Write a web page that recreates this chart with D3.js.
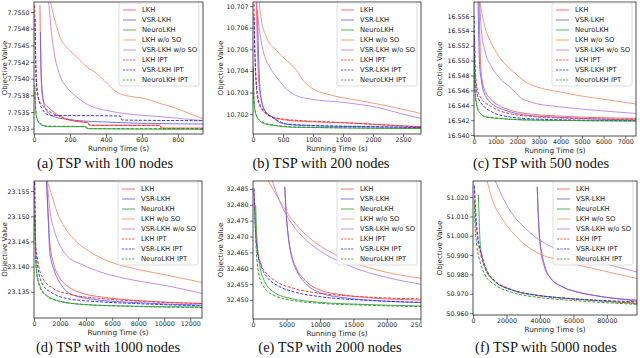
<!DOCTYPE html>
<html>
<head>
<meta charset="utf-8">
<script src="https://cdn.jsdelivr.net/npm/d3@7"></script>
<style>
  body { margin: 0; background: #fff; }
  text { font-family: "DejaVu Sans", sans-serif; fill: #222; }
  .cap { font-family: "Liberation Serif", serif; fill: #111; }
</style>
</head>
<body>
<svg id="fig" width="640" height="358"></svg>
<script>
// legend entries, same order in every panel
const seriesNames = ['LKH', 'VSR-LKH', 'NeuroLKH', 'LKH w/o SO', 'VSR-LKH w/o SO', 'LKH IPT', 'VSR-LKH IPT', 'NeuroLKH IPT'];
const seriesColors = ['#ff4d4d', '#5c5cff', '#2ca02c', '#ff8a65', '#b57bee', '#ff2b2b', '#2b2bff', '#2a9a2a'];
const seriesDashed = [false, false, false, false, false, true, true, true];
const captions = ['(a) TSP with 100 nodes', '(b) TSP with 200 nodes', '(c) TSP with 500 nodes',
  '(d) TSP with 1000 nodes', '(e) TSP with 2000 nodes', '(f) TSP with 5000 nodes'];

// ---- TSP 100 : [running time (s), objective value]
const lkh100 = [[33,7.7551],[36,7.7545],[40,7.7540],[48,7.75372],[60,7.75362],[80,7.75357],[100,7.75352],[130,7.75346],[170,7.7534],[230,7.75336],[300,7.75334],[310,7.7533],[700,7.7533],[710,7.75326],[940,7.75326]];
const vsr100 = [[36,7.7547],[40,7.7541],[46,7.7538],[55,7.75362],[70,7.75352],[90,7.75346],[120,7.75342],[160,7.7534],[250,7.75337],[400,7.75335],[600,7.75333],[940,7.75332]];
const neuro100 = [[4,7.7539],[7,7.7537],[10,7.7535],[15,7.75342],[25,7.75335],[45,7.7533],[90,7.75328],[290,7.75328],[300,7.75325],[940,7.75324]];
const lkhNoSo100 = [[89,7.75518],[117,7.75487],[145,7.75462],[183,7.75447],[240,7.75432],[296,7.75417],[353,7.75407],[391,7.75397],[428,7.75387],[466,7.75379],[523,7.75374],[598,7.75371],[655,7.75367],[711,7.75362],[787,7.75356],[862,7.75348],[940,7.7534]];
const vsrNoSo100 = [[81,7.75518],[98,7.75467],[117,7.75432],[145,7.75404],[183,7.75387],[240,7.75372],[315,7.75359],[409,7.75352],[523,7.75347],[655,7.75344],[787,7.75341],[940,7.75337]];
const lkhIpt100 = [[4,7.7551],[7,7.7546],[10,7.7541],[15,7.7538],[25,7.7537],[40,7.75362],[60,7.75356],[90,7.7535],[130,7.75345],[180,7.7534],[250,7.75336],[300,7.75334],[310,7.7533],[700,7.7533],[710,7.75325],[940,7.75325]];
const vsrIpt100 = [[6,7.7549],[9,7.7544],[13,7.7540],[20,7.7538],[30,7.75365],[45,7.75355],[65,7.75348],[90,7.75345],[480,7.75344],[490,7.75338],[940,7.75337]];
const neuroIpt100 = [[5,7.7538],[8,7.75362],[12,7.75348],[20,7.75338],[35,7.75333],[70,7.75329],[280,7.75328],[300,7.75325],[940,7.75325]];

// ---- TSP 200
const lkh200 = [[56,10.7072],[70,10.7055],[84,10.70417],[110,10.7031],[140,10.70262],[200,10.70215],[280,10.70192],[400,10.7018],[560,10.70172],[952,10.70165],[1512,10.7016],[2200,10.7015],[2800,10.70142]];
const vsr200 = [[73,10.7068],[90,10.7050],[112,10.7034],[140,10.7027],[168,10.70231],[230,10.70205],[336,10.70184],[450,10.7016],[672,10.7015],[952,10.70146],[1512,10.70143],[2800,10.70138]];
const neuro200 = [[5,10.7042],[10,10.7034],[17,10.70262],[30,10.70225],[56,10.70192],[100,10.70172],[168,10.70158],[280,10.7015],[392,10.70146],[600,10.7014],[952,10.70138],[1800,10.70135],[2800,10.70133]];
const lkhNoSo200 = [[100,10.7073],[140,10.70635],[224,10.70557],[392,10.70495],[560,10.70448],[728,10.70402],[840,10.70355],[1008,10.70316],[1232,10.70293],[1512,10.70275],[1792,10.70262],[2072,10.70247],[2352,10.70231],[2800,10.70203]];
const vsrNoSo200 = [[56,10.7073],[100,10.70604],[168,10.70495],[280,10.70417],[392,10.70371],[560,10.70316],[728,10.70285],[952,10.7027],[1512,10.70254],[2072,10.70231],[2500,10.702],[2800,10.7018]];
const lkhIpt200 = [[17,10.7071],[25,10.7055],[39,10.70417],[60,10.7031],[84,10.70262],[140,10.70225],[224,10.702],[350,10.70185],[504,10.70177],[800,10.7017],[1232,10.70164],[1700,10.70158],[2072,10.70152],[2800,10.7014]];
const vsrIpt200 = [[17,10.7065],[30,10.705],[56,10.7034],[80,10.7028],[112,10.70247],[180,10.70215],[280,10.70192],[400,10.70172],[560,10.70155],[952,10.70148],[1792,10.70143],[2800,10.70138]];
const neuroIpt200 = [[5,10.7041],[10,10.7033],[17,10.7026],[30,10.70222],[56,10.70195],[100,10.70175],[168,10.70162],[280,10.70152],[392,10.70147],[600,10.70142],[952,10.70139],[1800,10.70136],[2800,10.70134]];

// ---- TSP 500
const lkh500 = [[233,16.558],[270,16.553],[311,16.54919],[400,16.547],[498,16.54605],[809,16.5447],[1276,16.54381],[2364,16.54291],[3920,16.54255],[7500,16.54224]];
const vsr500 = [[187,16.558],[220,16.553],[264,16.54919],[340,16.5474],[420,16.54605],[809,16.54426],[1431,16.54336],[2364,16.54269],[3920,16.54238],[7500,16.54202]];
const neuro500 = [[0,16.55098],[25,16.548],[62,16.5456],[120,16.5442],[187,16.54336],[300,16.5429],[498,16.54246],[1120,16.54224],[2364,16.54202],[7500,16.54188]];
const lkhNoSo500 = [[250,16.5582],[342,16.55681],[498,16.55457],[809,16.55233],[1276,16.55008],[1742,16.54874],[2364,16.54717],[3142,16.54627],[3920,16.54583],[4698,16.54538],[5476,16.54502],[6254,16.5447],[7500,16.54417]];
const vsrNoSo500 = [[250,16.5582],[342,16.55412],[498,16.55143],[809,16.54919],[1276,16.5474],[1742,16.54627],[2200,16.5449],[2364,16.5447],[2831,16.54426],[3920,16.54381],[5476,16.54336],[7500,16.54291]];
const lkhIpt500 = [[31,16.55322],[60,16.5495],[109,16.54695],[200,16.5457],[342,16.54493],[809,16.54381],[1587,16.54291],[2831,16.54246],[4698,16.54224],[7500,16.54211]];
const vsrIpt500 = [[0,16.556],[15,16.552],[31,16.54919],[60,16.5475],[109,16.54605],[200,16.545],[342,16.54426],[809,16.54314],[1587,16.54246],[2831,16.54215],[4698,16.54202],[7500,16.54193]];
const neuroIpt500 = [[0,16.5505],[25,16.5478],[62,16.5455],[120,16.5441],[187,16.5434],[300,16.5429],[498,16.5425],[1120,16.54226],[2364,16.54205],[7500,16.5419]];

// ---- TSP 1000
const lkh1000 = [[950,23.1575],[1100,23.15],[1208,23.14493],[1465,23.14096],[1850,23.13831],[2493,23.13632],[3778,23.13467],[5063,23.13401],[7633,23.13334],[12900,23.13268]];
const vsr1000 = [[950,23.1575],[1100,23.149],[1208,23.14295],[1593,23.13897],[2107,23.13632],[3007,23.13434],[5063,23.13334],[7633,23.13288],[12900,23.13235]];
const neuro1000 = [[60,23.1502],[100,23.145],[180,23.13964],[437,23.13632],[951,23.13434],[1979,23.13315],[3778,23.13248],[7633,23.13215],[12900,23.13195]];
const lkhNoSo1000 = [[950,23.1575],[1208,23.15553],[1593,23.15222],[1979,23.14957],[2493,23.14725],[3264,23.14493],[4292,23.14295],[5834,23.14096],[7633,23.13964],[10203,23.13831],[12900,23.13685]];
const vsrNoSo1000 = [[1000,23.1575],[1208,23.15156],[1593,23.14692],[1979,23.14427],[2493,23.14228],[3778,23.1403],[5063,23.13897],[7633,23.13732],[10203,23.1362],[12900,23.13467]];
const lkhIpt1000 = [[50,23.1575],[90,23.15],[128,23.14493],[308,23.14096],[694,23.13765],[1465,23.13566],[2493,23.13467],[5063,23.13368],[7633,23.13321],[12900,23.13268]];
const vsrIpt1000 = [[50,23.1568],[90,23.149],[128,23.1436],[308,23.13964],[694,23.13632],[1465,23.13467],[2493,23.13368],[5063,23.13301],[7633,23.13268],[12900,23.13222]];
const neuroIpt1000 = [[60,23.1495],[100,23.1445],[180,23.1392],[437,23.136],[951,23.1342],[1979,23.1331],[3778,23.1325],[7633,23.1321],[12900,23.1319]];

// ---- TSP 2000
const lkh2000 = [[4750,32.4857],[4900,32.4789],[5250,32.4705],[5750,32.46419],[6500,32.45998],[8000,32.45578],[10000,32.45315],[13500,32.45158],[18500,32.45052],[25100,32.45]];
const vsr2000 = [[4750,32.4857],[4950,32.478],[5300,32.4695],[5850,32.463],[6600,32.45893],[8100,32.45473],[10250,32.4521],[13500,32.45073],[18500,32.44979],[25100,32.44916]];
const neuro2000 = [[400,32.47995],[600,32.46839],[1000,32.46104],[1750,32.45578],[3000,32.45263],[5500,32.45052],[10000,32.44926],[16000,32.44863],[25100,32.44811]];
const lkhNoSo2000 = [[2000,32.4885],[3500,32.48311],[5000,32.47785],[6500,32.47365],[8500,32.46944],[11000,32.46577],[13500,32.46314],[16000,32.46104],[18500,32.45946],[25100,32.45683]];
const vsrNoSo2000 = [[2750,32.4885],[4000,32.48101],[5000,32.4768],[6500,32.47207],[8500,32.46787],[11000,32.46419],[13500,32.46156],[16000,32.45946],[18500,32.45788],[25100,32.45494]];
const lkhIpt2000 = [[150,32.4845],[350,32.47365],[650,32.46629],[1250,32.46104],[2250,32.45788],[3500,32.45578],[6000,32.45368],[10000,32.4521],[16000,32.45105],[25100,32.45031]];
const vsrIpt2000 = [[150,32.4852],[350,32.4725],[650,32.4655],[1250,32.4605],[2250,32.4568],[3500,32.45473],[6000,32.45263],[10000,32.45105],[16000,32.45],[25100,32.44926]];
const neuroIpt2000 = [[250,32.4789],[500,32.46524],[900,32.45788],[1750,32.45368],[3000,32.45158],[5500,32.45],[10000,32.44895],[16000,32.4484],[25100,32.4479]];

// ---- TSP 5000
const lkh5000 = [[38370,51.0253],[39340,51.0055],[40360,50.9935],[42350,50.9848],[46390,50.9779],[51390,50.9745],[61450,50.971],[71500,50.9693],[98000,50.9662]];
const vsr5000 = [[38370,51.0253],[39500,51.002],[41380,50.99],[43370,50.9831],[47410,50.9771],[53430,50.9736],[63430,50.9707],[77530,50.9684],[98000,50.9667]];
const neuro5000 = [[3200,51.021],[3610,51.0107],[4220,50.9969],[5600,50.9883],[8250,50.9814],[13250,50.9762],[23310,50.9719],[41380,50.9689],[61450,50.9672],[98000,50.965]];
const lkhNoSo5000 = [[8250,51.029],[11260,51.0193],[17290,51.009],[23310,51.002],[31330,50.9952],[41380,50.99],[51390,50.9874],[71500,50.9831],[98000,50.9779]];
const vsrNoSo5000 = [[13000,51.029],[15240,51.0245],[21270,51.0142],[31330,51.0038],[41380,50.9969],[51390,50.9926],[71500,50.9874],[98000,50.9812]];
const lkhIpt5000 = [[800,51.0255],[1200,51.0142],[2230,51.002],[4220,50.9917],[7230,50.9831],[11260,50.9779],[21270,50.9728],[31330,50.9702],[51390,50.9679],[71500,50.9667],[98000,50.965]];
const vsrIpt5000 = [[800,51.026],[1600,51.0124],[2800,51.0003],[5220,50.99],[8250,50.9822],[13250,50.9765],[23310,50.9719],[37350,50.9693],[57410,50.9676],[98000,50.9658]];
const neuroIpt5000 = [[800,51.0176],[1200,51.0055],[2230,50.9952],[4220,50.9865],[7230,50.9797],[13250,50.9745],[23310,50.9707],[41380,50.9679],[61450,50.9664],[98000,50.9645]];

// ---- ticks
const xTicks100 = [0, 200, 400, 600, 800];
const xTicks200 = [0, 500, 1000, 1500, 2000, 2500];
const xTicks500 = [0, 1000, 2000, 3000, 4000, 5000, 6000, 7000];
const xTicks1000 = [0, 2000, 4000, 6000, 8000, 10000, 12000];
const xTicks2000 = [0, 5000, 10000, 15000, 20000, 25000];
const xTicks5000 = [0, 20000, 40000, 60000, 80000];
const yTicks100 = [7.75325, 7.7535, 7.75375, 7.754, 7.75425, 7.7545, 7.75475, 7.755];
const yLabels100 = ['7.7533', '7.7535', '7.7538', '7.7540', '7.7542', '7.7545', '7.7548', '7.7550'];
const yTicks200 = [10.702, 10.703, 10.704, 10.705, 10.706, 10.707];
const yTicks500 = [16.540, 16.542, 16.544, 16.546, 16.548, 16.550, 16.552, 16.554, 16.556];
const yTicks1000 = [23.135, 23.140, 23.145, 23.150, 23.155];
const yTicks2000 = [32.450, 32.455, 32.460, 32.465, 32.470, 32.475, 32.480, 32.485];
const yTicks5000 = [50.960, 50.970, 50.980, 50.990, 51.000, 51.010, 51.020];

// panel layout (pixels) + domains
const panels = [
  { box: [34, 203, 2, 134], xd: [0, 940], yd: [7.75317, 7.75515], xt: xTicks100, yt: yTicks100, yl: yLabels100,
    lines: [lkh100, vsr100, neuro100, lkhNoSo100, vsrNoSo100, lkhIpt100, vsrIpt100, neuroIpt100], capX: 105, capY: 168, labX: 4.5, clip: [0, 210] },
  { box: [253, 421, 2, 134], xd: [0, 2800], yd: [10.70108, 10.70719], xt: xTicks200, yt: yTicks200,
    lines: [lkh200, vsr200, neuro200, lkhNoSo200, vsrNoSo200, lkhIpt200, vsrIpt200, neuroIpt200], capX: 321, capY: 168, labX: 221, clip: [210, 422] },
  { box: [474, 636, 2, 136], xd: [0, 7500], yd: [16.53987, 16.55788], xt: xTicks500, yt: yTicks500,
    lines: [lkh500, vsr500, neuro500, lkhNoSo500, vsrNoSo500, lkhIpt500, vsrIpt500, neuroIpt500], capX: 541, capY: 168, labX: 440, clip: [422, 640] },
  { box: [34, 202, 181, 318], xd: [0, 12900], yd: [23.1298, 23.157], xt: xTicks1000, yt: yTicks1000,
    lines: [lkh1000, vsr1000, neuro1000, lkhNoSo1000, vsrNoSo1000, lkhIpt1000, vsrIpt1000, neuroIpt1000], capX: 108, capY: 352, labX: 4.5, clip: [0, 210] },
  { box: [253, 421, 181, 319], xd: [0, 25100], yd: [32.444, 32.4875], xt: xTicks2000, yt: yTicks2000,
    lines: [lkh2000, vsr2000, neuro2000, lkhNoSo2000, vsrNoSo2000, lkhIpt2000, vsrIpt2000, neuroIpt2000], capX: 330, capY: 352, labX: 221, clip: [210, 422] },
  { box: [473, 637, 181, 315], xd: [0, 98000], yd: [50.959, 51.0283], xt: xTicks5000, yt: yTicks5000,
    lines: [lkh5000, vsr5000, neuro5000, lkhNoSo5000, vsrNoSo5000, lkhIpt5000, vsrIpt5000, neuroIpt5000], capX: 546, capY: 352, labX: 440, clip: [422, 640] }
];

const svg = d3.select('#fig');
const defs = svg.append('defs');

panels.forEach((p, pi) => {
  const [L, R, T, B] = p.box;
  const x = d3.scaleLinear().domain(p.xd).range([L, R]);
  const y = d3.scaleLinear().domain(p.yd).range([B, T]);

  // keep each sub-figure inside its own column (the 25000 label is cut in the original)
  defs.append('clipPath').attr('id', 'col' + pi)
    .append('rect').attr('x', p.clip[0]).attr('y', 0).attr('width', p.clip[1] - p.clip[0]).attr('height', 358);
  defs.append('clipPath').attr('id', 'plot' + pi)
    .append('rect').attr('x', L).attr('y', T).attr('width', R - L).attr('height', B - T);

  const g = svg.append('g').attr('clip-path', `url(#col${pi})`);

  // curves
  const line = d3.line().x(d => x(d[0])).y(d => y(d[1])).curve(d3.curveMonotoneX);
  const lg = g.append('g').attr('clip-path', `url(#plot${pi})`);
  p.lines.forEach((pts, i) => {
    lg.append('path')
      .attr('d', line(pts))
      .attr('fill', 'none')
      .attr('stroke', seriesColors[i])
      .attr('stroke-width', 1)
      .attr('stroke-opacity', seriesDashed[i] ? 0.95 : 0.85)
      .attr('stroke-dasharray', seriesDashed[i] ? '3,1.6' : null);
  });

  // axes
  const xa = g.append('g').attr('transform', `translate(0,${B})`)
    .call(d3.axisBottom(x).tickValues(p.xt).tickFormat(d3.format('d')).tickSize(3).tickSizeOuter(0).tickPadding(1));
  const ya = g.append('g').attr('transform', `translate(${L},0)`)
    .call(d3.axisLeft(y).tickValues(p.yt)
      .tickFormat((d, i) => p.yl ? p.yl[i] : d3.format('.3f')(d))
      .tickSize(3).tickSizeOuter(0).tickPadding(1.5));
  [xa, ya].forEach(a => {
    a.select('.domain').remove();
    a.selectAll('line').attr('stroke', '#333').attr('stroke-width', 0.7);
    a.selectAll('text').attr('font-size', 6.3).attr('fill', '#222');
  });

  g.append('rect').attr('x', L).attr('y', T).attr('width', R - L).attr('height', B - T)
    .attr('fill', 'none').attr('stroke', '#222').attr('stroke-width', 0.8);

  g.append('text').attr('x', (L + R) / 2).attr('y', B + 16.5).attr('text-anchor', 'middle')
    .attr('font-size', 7.2).text('Running Time (s)');
  g.append('text').attr('transform', `translate(${p.labX},${(T + B) / 2}) rotate(-90)`)
    .attr('text-anchor', 'middle').attr('dominant-baseline', 'central')
    .attr('font-size', 7).text('Objective Value');

  // legend
  const lw = 80, lh = 83;
  const leg = g.append('g').attr('transform', `translate(${R - 4 - lw},${T + 1})`);
  leg.append('rect').attr('width', lw).attr('height', lh).attr('rx', 2)
    .attr('fill', '#fff').attr('fill-opacity', 0.8)
    .attr('stroke', '#d4d4d4').attr('stroke-width', 0.8);
  seriesNames.forEach((name, i) => {
    const yy = 7 + i * 10;
    leg.append('line').attr('x1', 4).attr('x2', 17).attr('y1', yy).attr('y2', yy)
      .attr('stroke', seriesColors[i]).attr('stroke-width', 1).attr('stroke-opacity', 0.8)
      .attr('stroke-dasharray', seriesDashed[i] ? '2.2,1.2' : null);
    leg.append('text').attr('x', 23).attr('y', yy).attr('dy', '0.35em')
      .attr('font-size', 6.8).text(name);
  });

  svg.append('text').attr('class', 'cap').attr('x', p.capX).attr('y', p.capY)
    .attr('text-anchor', 'middle').attr('font-size', 14.5).text(captions[pi]);
});
</script>
</body>
</html>
